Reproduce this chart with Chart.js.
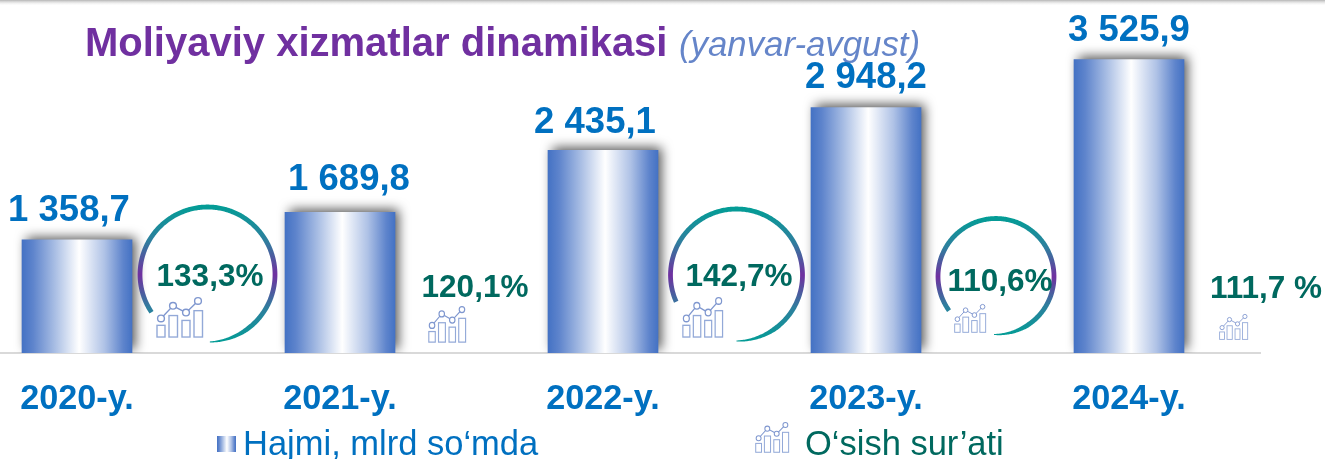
<!DOCTYPE html>
<html><head><meta charset="utf-8">
<style>
html,body{margin:0;padding:0;background:#fff;overflow:hidden;width:1325px;height:459px}
#wrap{position:absolute;left:-55px;top:0;width:1380px;height:459px}
</style>
<script src="https://cdn.jsdelivr.net/npm/chart.js@4"></script>
</head><body>
<div id="wrap"><canvas id="c" width="1380" height="459"></canvas></div>
<script>
const categories = ['2020-y.','2021-y.','2022-y.','2023-y.','2024-y.'];
const volume = [1358.7,1689.8,2435.1,2948.2,3525.9];
const volumeLabels = ['1 358,7','1 689,8','2 435,1','2 948,2','3 525,9'];
const growthLabels = ['133,3%','120,1%','142,7%','110,6%','111,7 %'];
const seriesNames = ['Hajmi, mlrd so‘mda','O‘sish sur’ati'];
const titleMain = 'Moliyaviy xizmatlar dinamikasi';
const titleSub = '(yanvar-avgust)';

const FONT = '"Liberation Sans", Arial, sans-serif';
const OX = 55; // canvas is shifted left by this much
const BAR_W = 110;

function barGradient(ctx, x0, x1){
  const g = ctx.createLinearGradient(x0,0,x1,0);
  g.addColorStop(0,'#4472C4');
  g.addColorStop(0.1,'#5E84CC');
  g.addColorStop(0.3,'#A9BEE4');
  g.addColorStop(0.52,'#FFFFFF');
  g.addColorStop(0.75,'#AFC2E6');
  g.addColorStop(0.92,'#5E84CC');
  g.addColorStop(1,'#4472C4');
  return g;
}
function drawIcon(ctx,x,y,w,h){
  ctx.save();
  ctx.translate(x,y); ctx.scale(w/47,h/42);
  ctx.strokeStyle='#93A9D8'; ctx.lineWidth=1.4; ctx.fillStyle='#fff';
  [[1,29,8,12],[13,19,8.5,22],[26,24,8,17],[38,14,8.5,27]].forEach(r=>ctx.strokeRect(r[0],r[1],r[2],r[3]));
  const p=[[5,22],[17,9],[30,16],[42,4]];
  ctx.strokeStyle='#7F97CF';
  ctx.beginPath(); p.forEach((q,i)=>i?ctx.lineTo(q[0],q[1]):ctx.moveTo(q[0],q[1])); ctx.stroke();
  p.forEach(q=>{ctx.beginPath();ctx.arc(q[0],q[1],3.4,0,Math.PI*2);ctx.fill();ctx.stroke();});
  ctx.restore();
}
function drawRing(ctx,cx,cy,r,a0,a1){
  const g=ctx.createLinearGradient(0,cy-r,0,cy+r);
  g.addColorStop(0,'#049C96'); g.addColorStop(0.25,'#2E7F9E'); g.addColorStop(0.5,'#7030A0');
  g.addColorStop(0.75,'#2E7F9E'); g.addColorStop(1,'#049C96');
  const hw=a=>{const rest=a1-a; return rest>35?2.4:0.5+1.9*rest/35;};
  ctx.save();
  ctx.fillStyle=g;
  ctx.beginPath();
  for(let a=a0;a<=a1;a+=1){const t=a*Math.PI/180,R=r+hw(a);ctx.lineTo(cx+R*Math.cos(t),cy+R*Math.sin(t));}
  for(let a=a1;a>=a0;a-=1){const t=a*Math.PI/180,R=r-hw(a);ctx.lineTo(cx+R*Math.cos(t),cy+R*Math.sin(t));}
  ctx.closePath(); ctx.fill();
  ctx.restore();
}

const overlay = {
  id:'overlay',
  beforeDatasetDraw(chart){
    const c=chart.ctx; c.save();
    c.shadowColor='rgba(0,0,0,0.68)'; c.shadowBlur=11; c.shadowOffsetX=4; c.shadowOffsetY=-3;
  },
  afterDatasetDraw(chart){ chart.ctx.restore(); },
  afterDraw(chart){
    const c=chart.ctx;
    c.save();
    c.translate(OX,0); // page coordinates from here
    const tb=c.createLinearGradient(0,0,0,6);
    tb.addColorStop(0,'#B5B5B5'); tb.addColorStop(1,'rgba(255,255,255,0)');
    c.fillStyle=tb; c.fillRect(0,0,1325,6);
    // title
    c.textBaseline='alphabetic'; c.textAlign='left';
    c.font='bold 40px '+FONT; c.fillStyle='#7030A0';
    c.fillText(titleMain,85,56);
    c.font='italic 34.8px '+FONT; c.fillStyle='#6585C9';
    c.fillText(titleSub,679,56);
    // value labels, placed above their bars
    c.font='bold 36.5px '+FONT; c.fillStyle='#0070C0'; c.textAlign='center';
    const meta=chart.getDatasetMeta(0);
    const shift=[-8,9,-8,0,0], lift=[19,22,17,20,18];
    volumeLabels.forEach((t,i)=>{
      const el=meta.data[i];
      c.fillText(t,el.x-OX+shift[i],el.y-lift[i]);
    });
    // rings
    drawRing(c,207.5,274.5,67.5,146,448);
    drawRing(c,736.5,275,66,156,450);
    drawRing(c,996,276.5,58,144,452);
    // growth labels
    c.font='bold 31.5px '+FONT; c.fillStyle='#00695F';
    const g=[[210,286],[475,297],[739,286],[1000,291],[1266,298]];
    growthLabels.forEach((t,i)=>c.fillText(t,g[i][0],g[i][1]));
    // icons
    [[156,297,47,41],[428,306,38,37],[682,297,41,41],[954,304,32,29],[1219,314,29,26]].forEach(r=>drawIcon(c,...r));
    // legend
    c.fillStyle=barGradient(c,217,236); c.fillRect(217,436,19,16);
    c.textAlign='left';
    c.font='34.5px '+FONT; c.fillStyle='#0070C0';
    c.fillText(seriesNames[0],243,455);
    drawIcon(c,755,422,34,31);
    c.fillStyle='#00695F';
    c.fillText(seriesNames[1],805,455);
    c.restore();
  }
};

new Chart(document.getElementById('c'),{
  type:'bar',
  data:{labels:categories,datasets:[{
    label:seriesNames[0],
    data:volume,
    barThickness:BAR_W,
    backgroundColor(ctx){
      const ch=ctx.chart;
      if(!ch.chartArea) return '#4472C4';
      const x=ch.scales.x.getPixelForValue(ctx.dataIndex);
      return barGradient(ch.ctx,x-BAR_W/2,x+BAR_W/2);
    },
    borderWidth:0
  }]},
  options:{
    responsive:false,animation:false,
    layout:{padding:{left:0.5,right:64.5,top:20,bottom:0}},
    plugins:{legend:{display:false},title:{display:false},tooltip:{enabled:false}},
    scales:{
      x:{
        offset:true,
        grid:{display:false},
        border:{display:true,color:'#D9D9D9',width:2},
        ticks:{color:'#0070C0',font:{family:FONT,size:34.2,weight:'bold'},padding:18,maxRotation:0},
        afterFit(s){s.height=106;}
      },
      y:{display:false,min:0,max:4000}
    }
  },
  plugins:[overlay]
});
</script>
</body></html>
